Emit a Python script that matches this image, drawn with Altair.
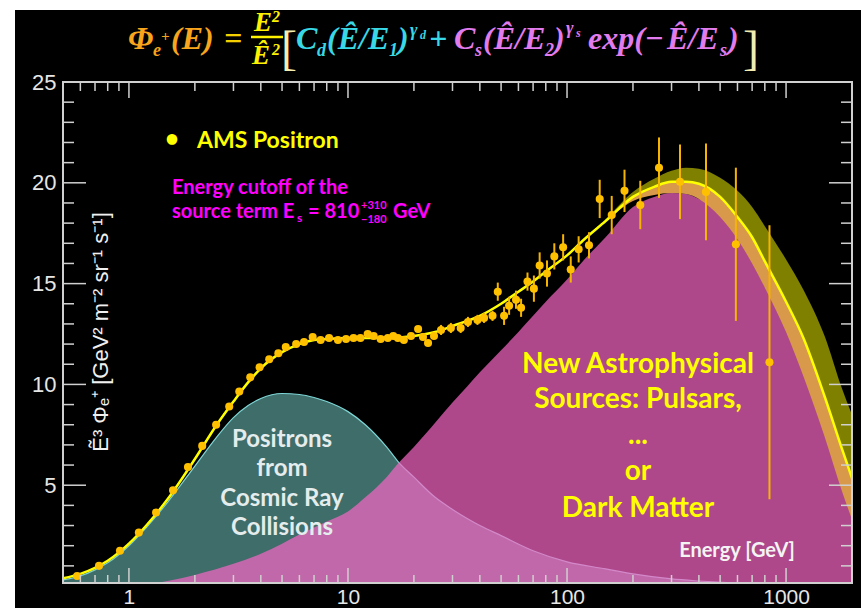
import altair as alt
import pandas as pd

W, H = 789, 501
L, T = 63, 82

# ---------------- data ----------------
ams_energy = [0.58, 0.73, 0.91, 1.11, 1.33, 1.59, 1.86, 2.16, 2.5, 2.87,
              3.19, 3.58, 3.95, 4.37, 4.81, 5.2, 5.8, 6.3, 6.9, 7.5,
              8.2, 9.0, 9.8, 10.6, 11.4, 12.3, 13.1, 14.1, 15.2, 16.1,
              16.9, 18.0, 19.4, 20.9, 22.0, 23.2, 24.7, 26.6, 29.5, 32.7,
              35.3, 39.0, 41.8, 45.7, 48.3, 51.6, 54.4, 58.5, 61.7, 66.0,
              70.6, 75.0, 81.0, 87.5, 96.0, 104, 113, 126, 141, 160,
              183, 216, 263, 328, 431, 590, 840]
ams_flux = [0.5, 1.0, 1.75, 2.65, 3.65, 4.75, 5.9, 6.95, 8.0, 8.9,
            9.65, 10.35, 10.85, 11.25, 11.55, 11.85, 12.0, 12.1, 12.35, 12.2,
            12.3, 12.2, 12.25, 12.3, 12.3, 12.5, 12.4, 12.25, 12.3, 12.4,
            12.3, 12.2, 12.4, 12.75, 12.35, 12.05, 12.4, 12.7, 12.8, 12.8,
            13.1, 13.2, 13.3, 13.4, 14.6, 13.4, 13.9, 14.2, 13.8, 15.1,
            14.75, 15.9, 15.5, 16.35, 16.8, 15.7, 16.7, 16.9, 19.2, 18.4,
            19.6, 18.9, 20.75, 20.05, 19.55, 16.95, 11.1]
ams_err = [0.04, 0.04, 0.05, 0.05, 0.05, 0.06, 0.06, 0.07, 0.07, 0.08,
           0.08, 0.08, 0.09, 0.09, 0.1, 0.1, 0.1, 0.1, 0.1, 0.15,
           0.15, 0.15, 0.15, 0.15, 0.15, 0.15, 0.15, 0.15, 0.15, 0.15,
           0.15, 0.15, 0.15, 0.15, 0.15, 0.15, 0.15, 0.25, 0.25, 0.25,
           0.25, 0.25, 0.25, 0.25, 0.45, 0.45, 0.45, 0.45, 0.45, 0.45,
           0.65, 0.65, 0.65, 0.65, 0.65, 0.65, 0.65, 0.65, 0.95, 0.95,
           1.05, 1.2, 1.5, 1.85, 2.4, 3.8, 6.8]

fit_energy = [0.5, 0.6, 0.7, 0.8, 1.0, 1.2, 1.5, 2.0, 2.5, 3.0,
              3.5, 4.0, 5.0, 6.0, 7.0, 8.0, 10, 12, 15, 20,
              25, 30, 40, 50, 60, 70, 80, 100, 120, 150,
              200, 250, 300, 350, 400, 500, 600, 700, 800, 1000,
              1200, 1500, 1800, 2000]
fit_flux = [0.38, 0.6, 0.9, 1.25, 2.1, 3.0, 4.3, 6.3, 7.95, 9.15,
            10.1, 10.8, 11.6, 12.0, 12.2, 12.25, 12.3, 12.3, 12.3, 12.4,
            12.6, 12.9, 13.4, 14.0, 14.6, 15.1, 15.6, 16.4, 17.2, 18.1,
            19.3, 19.8, 20.05, 20.05, 19.95, 19.3, 18.3, 17.3, 16.1, 14.1,
            12.3, 9.4, 6.8, 5.35]

diff_energy = [0.5, 0.6, 0.7, 0.8, 1.0, 1.2, 1.5, 2.0, 2.5, 3.0,
               3.5, 4.0, 5.0, 6.0, 7.0, 8.0, 10, 12, 15, 17,
               20, 25, 30, 35, 40, 50, 70, 100, 150, 200,
               300, 400, 600, 1000, 2000]
diff_flux = [0.3, 0.5, 0.8, 1.15, 2.0, 2.9, 4.15, 5.95, 7.35, 8.35,
             8.95, 9.3, 9.55, 9.5, 9.35, 9.15, 8.65, 8.0, 6.9, 6.15,
             5.4, 4.4, 3.8, 3.35, 3.0, 2.5, 1.75, 1.2, 0.85, 0.6,
             0.35, 0.25, 0.15, 0.08, 0.03]

src_energy = [1.1, 1.5, 2.0, 3.0, 4.0, 5.0, 6.0, 8.0, 10, 12,
              15, 17, 20, 25, 30, 35, 40, 50, 60, 70,
              80, 100, 120, 150, 200, 250, 300, 350, 400, 500,
              600, 700, 800, 1000, 1200, 1500, 1800, 2000]
src_flux = [0.0, 0.25, 0.55, 1.1, 1.6, 2.1, 2.55, 3.2, 3.7, 4.4,
            5.4, 6.1, 6.9, 8.1, 9.1, 9.9, 10.6, 11.7, 12.6, 13.4,
            14.1, 15.2, 16.2, 17.3, 18.8, 19.3, 19.5, 19.45, 19.2, 18.7,
            17.9, 16.9, 15.8, 13.8, 12.1, 9.3, 6.7, 5.2]

band_energy = [100, 150, 200, 250, 300, 350, 400, 500, 600, 700,
               800, 1000, 1200, 1500, 1800, 2000]
band_mid = [16.4, 18.1, 19.3, 19.8, 20.05, 20.05, 19.95, 19.3, 18.3, 17.3,
            16.1, 14.1, 12.3, 9.4, 6.8, 5.35]
band_upper = [16.4, 18.2, 19.55, 20.2, 20.6, 20.75, 20.7, 20.25, 19.6, 18.8,
              17.85, 16.2, 14.7, 12.4, 9.8, 8.5]
band_lower = [16.4, 18.1, 19.1, 19.4, 19.5, 19.45, 19.2, 18.3, 17.2, 16.0,
              14.8, 12.6, 10.4, 7.4, 4.7, 3.3]

x_label_values = [1, 10, 100, 1000]
y_label_values = [5, 10, 15, 20, 25]
x_major_ticks = [1, 10, 100, 1000]
x_minor_ticks = [0.6, 0.7, 0.8, 0.9, 2, 3, 4, 5, 6, 7, 8, 9,
                 20, 30, 40, 50, 60, 70, 80, 90,
                 200, 300, 400, 500, 600, 700, 800, 900]
y_major_ticks = [5, 10, 15, 20]
y_minor_ticks = [1, 2, 3, 4, 6, 7, 8, 9, 11, 12, 13, 14,
                 16, 17, 18, 19, 21, 22, 23, 24]

YMIN = 0.15

# ---------------- tables ----------------
pts = pd.DataFrame({"E": ams_energy, "F": ams_flux, "err": ams_err})
pts["lo"] = pts["F"] - pts["err"]
pts["hi"] = pts["F"] + pts["err"]
fit = pd.DataFrame({"E": fit_energy, "F": fit_flux})
diff = pd.DataFrame({"E": diff_energy, "F": diff_flux})
diff["base"] = YMIN
src = pd.DataFrame({"E": src_energy, "F": src_flux})
src["base"] = YMIN
band = pd.DataFrame({"E": band_energy, "mid": band_mid,
                     "up": band_upper, "lo": band_lower})
one = pd.DataFrame({"k": [0]})

xs = alt.Scale(type="log", domain=[0.5, 2000])
ys = alt.Scale(domain=[YMIN, 25], zero=False)

AX_COL = "#E6E6E6"
xaxis = alt.Axis(values=x_label_values, format="d", ticks=False, domain=False,
                 grid=False, labelColor=AX_COL, labelFontSize=21,
                 labelFont="Liberation Sans", labelPadding=3,
                 labelFlush=False, labelOverlap=False, title=None)
yaxis = alt.Axis(values=y_label_values, format="d", ticks=False, domain=False,
                 grid=False, labelColor=AX_COL, labelFontSize=22,
                 labelFont="Liberation Sans", labelPadding=7,
                 labelFlush=False, labelOverlap=False, title=None)


def X(field):
    return alt.X(f"{field}:Q", scale=xs, axis=xaxis)


def Y(field):
    return alt.Y(f"{field}:Q", scale=ys, axis=yaxis)


layers = []

# white margins of the slide
layers.append(alt.Chart(one).mark_rect(color="white").encode(
    x=alt.value(-L), x2=alt.value(W + 9), y=alt.value(-T), y2=alt.value(-T + 10)))
layers.append(alt.Chart(one).mark_rect(color="white").encode(
    x=alt.value(-L), x2=alt.value(-L + 15), y=alt.value(-T), y2=alt.value(H + 25)))

# diffuse term (teal)
layers.append(alt.Chart(diff).mark_area(
    color="#3F6D6A", interpolate="monotone", clip=True).encode(
    x=X("E"), y=Y("F"), y2="base:Q"))
layers.append(alt.Chart(diff).mark_line(
    color="#7ED6D6", strokeWidth=1.2, interpolate="monotone", clip=True).encode(
    x=X("E"), y=Y("F")))

# source term (magenta, translucent)
layers.append(alt.Chart(src).mark_area(
    color="#F866C4", opacity=0.7, interpolate="monotone", clip=True).encode(
    x=X("E"), y=Y("F"), y2="base:Q"))

# uncertainty bands
layers.append(alt.Chart(band).mark_area(
    color="#7F7F00", interpolate="monotone", clip=True).encode(
    x=X("E"), y=Y("up"), y2="mid:Q"))
layers.append(alt.Chart(band).mark_area(
    color="#D89A4A", interpolate="monotone", clip=True).encode(
    x=X("E"), y=Y("mid"), y2="lo:Q"))

# fit line
layers.append(alt.Chart(fit).mark_line(
    color="#FFFF00", strokeWidth=2.5, interpolate="monotone", clip=True).encode(
    x=X("E"), y=Y("F")))

# data points
layers.append(alt.Chart(pts).mark_rule(color="#F5B400", strokeWidth=2, clip=True).encode(
    x=X("E"), y=Y("lo"), y2="hi:Q"))
layers.append(alt.Chart(pts).mark_circle(color="#FFC000", size=65, opacity=1).encode(
    x=X("E"), y=Y("F")))

# ticks (inward, ROOT style) and frame
TICK = "#D0D0D0"
for vals, ln in ((x_major_ticks, 15), (x_minor_ticks, 8)):
    d = pd.DataFrame({"v": vals})
    layers.append(alt.Chart(d).mark_rule(color=TICK, strokeWidth=1.5).encode(
        x=X("v"), y=alt.value(H), y2=alt.value(H - ln)))
    layers.append(alt.Chart(d).mark_rule(color=TICK, strokeWidth=1.5).encode(
        x=X("v"), y=alt.value(0), y2=alt.value(ln + 1)))
for vals, ln in ((y_major_ticks, 23), (y_minor_ticks, 11)):
    d = pd.DataFrame({"v": vals})
    layers.append(alt.Chart(d).mark_rule(color=TICK, strokeWidth=1.5).encode(
        y=Y("v"), x=alt.value(0), x2=alt.value(ln)))
    layers.append(alt.Chart(d).mark_rule(color=TICK, strokeWidth=1.5).encode(
        y=Y("v"), x=alt.value(W), x2=alt.value(W - ln)))
layers.append(alt.Chart(one).mark_rect(filled=False, stroke=TICK, strokeWidth=2).encode(
    x=alt.value(0), x2=alt.value(W), y=alt.value(0), y2=alt.value(H)))


def txt(s, x, y, size, color, font="Lato", weight="bold", style="normal",
        align="left", baseline="alphabetic", angle=0):
    kw = dict(text=s, align=align, baseline=baseline, font=font, fontSize=size,
              fontWeight=weight, fontStyle=style, color=color)
    if angle:
        kw["angle"] = angle
    return alt.Chart(one).mark_text(**kw).encode(
        x=alt.value(x - L), y=alt.value(y - T))


# axis titles
layers.append(txt("Ẽ³ Φₑ⁺ [GeV² m⁻² sr⁻¹ s⁻¹]", 101, 332, 22, "#F0F0F0",
                  font="Liberation Sans", weight="normal", align="center",
                  baseline="middle", angle=270))
layers.append(txt("Energy [GeV]", 737, 557, 20, "#F4F4F4", align="center"))

# legend / notes
layers.append(txt("•", 165, 147, 24, "#FFFF00"))
layers.append(txt("AMS Positron", 197, 148, 23, "#FFFF00"))
layers.append(txt("Energy cutoff of the", 172, 194, 20, "#FF00FF"))
layers.append(txt("source term E", 172, 218, 20, "#FF00FF"))
layers.append(txt("s", 297, 222, 12, "#FF00FF"))
layers.append(txt("= 810", 308, 218, 20, "#FF00FF"))
layers.append(txt("+310", 361, 209, 11, "#FF00FF"))
layers.append(txt("−180", 361, 223, 11, "#FF00FF"))
layers.append(txt("GeV", 393, 218, 20, "#FF00FF"))

# region annotations
for i, s in enumerate(["Positrons", "from", "Cosmic Ray", "Collisions"]):
    layers.append(txt(s, 282, 447 + 29.3 * i, 24, "#E4ECEC", align="center"))
for s, yy in [("New Astrophysical", 373), ("Sources: Pulsars,", 408),
              ("...", 444), ("or", 480), ("Dark Matter", 517)]:
    layers.append(txt(s, 638, yy, 28, "#FFFF00", align="center"))

# formula title
OR, YE, EQ = "#F7A51C", "#FFF200", "#F5D000"
CY, VI, PA = "#38D8E6", "#E27CEE", "#F5EDB0"
SER = "Liberation Serif"
f_parts = [
    ("Φ", 128, 49, 32, OR), ("e", 153, 56, 18, OR), ("+", 161, 41, 15, OR),
    ("(E)", 171, 49, 32, OR), ("=", 224, 49, 32, EQ),
    ("E", 254, 31, 27, YE), ("2", 272, 22, 16, YE),
    ("Ê", 252, 64, 27, YE), ("2", 272, 55, 16, YE),
    ("C", 296, 49, 32, CY), ("d", 317, 56, 18, CY), ("(Ê/E", 327, 49, 32, CY),
    ("1", 389, 56, 18, CY), (")", 398, 49, 32, CY), ("γ", 410, 36, 18, CY),
    ("d", 420, 39, 12, CY), ("+", 429, 49, 32, CY),
    ("C", 454, 49, 32, VI), ("s", 475, 56, 18, VI), ("(Ê/E", 483, 49, 32, VI),
    ("2", 545, 56, 18, VI), (")", 554, 49, 32, VI), ("γ", 566, 34, 18, VI),
    ("s", 576, 37, 12, VI), ("exp(−", 588, 49, 32, VI), ("Ê/E", 667, 49, 32, VI),
    ("s", 720, 56, 18, VI), (")", 728, 49, 32, VI),
]
for s, x, y, sz, c in f_parts:
    layers.append(txt(s, x, y, sz, c, font=SER, weight="bold", style="italic"))
layers.append(txt("[", 281, 64, 48, PA, font=SER, weight="normal"))
layers.append(txt("]", 743, 64, 48, PA, font=SER, weight="normal"))
layers.append(alt.Chart(one).mark_rule(color=YE, strokeWidth=2.5).encode(
    x=alt.value(251 - L), x2=alt.value(283 - L), y=alt.value(37 - T)))

chart = alt.layer(*layers).properties(
    width=W, height=H,
    autosize=alt.AutoSizeParams(type="none"),
    padding={"left": L, "top": T, "right": 861 - L - W, "bottom": 608 - T - H},
    background="#000000",
).configure_view(stroke=None)

chart.save("out.html", embed_options={"renderer": "svg", "actions": False})
